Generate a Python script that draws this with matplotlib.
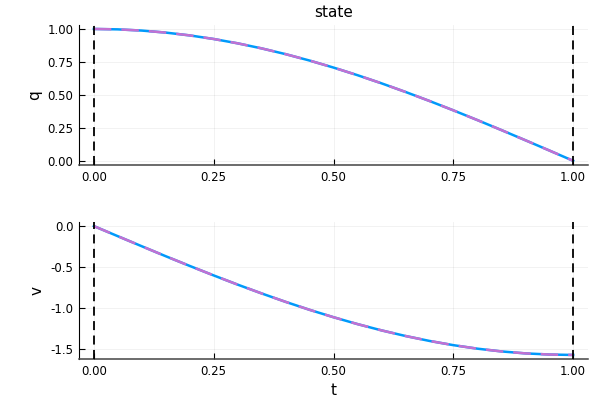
import matplotlib
matplotlib.use("Agg")
import matplotlib.pyplot as plt

t = [0.0, 0.05, 0.1, 0.15, 0.2, 0.25, 0.3, 0.35, 0.4, 0.45, 0.5,
     0.55, 0.6, 0.65, 0.7, 0.75, 0.8, 0.85, 0.9, 0.95, 1.0]
q = [1.0, 0.9969, 0.9877, 0.9724, 0.9511, 0.9239, 0.8910, 0.8526, 0.8090, 0.7604, 0.7071,
     0.6494, 0.5878, 0.5225, 0.4540, 0.3827, 0.3090, 0.2334, 0.1564, 0.0785, 0.0]
v = [0.0, -0.1231, -0.2457, -0.3672, -0.4854, -0.6011, -0.7132, -0.8206, -0.9233, -1.0203, -1.1107,
     -1.1944, -1.2708, -1.3393, -1.3995, -1.4512, -1.4939, -1.5274, -1.5514, -1.5654, -1.5708]
bounds = [0.0, 1.0]
xticks = [0.0, 0.25, 0.5, 0.75, 1.0]
q_ticks = [0.0, 0.25, 0.5, 0.75, 1.0]
v_ticks = [0.0, -0.5, -1.0, -1.5]

blue = "#009AFA"
purple = "#C271D2"

fig = plt.figure(figsize=(6, 4.2), dpi=100)
ax1 = fig.add_axes([79/600, 1-165/420, (588-79)/600, (165-25)/420])
ax2 = fig.add_axes([79/600, 1-359/420, (588-79)/600, (359-222)/420])

def style(ax, yticks, yfmt):
    ax.set_xlim(-0.031, 1.031)
    ax.set_xticks(xticks)
    ax.set_xticklabels([f"{x:.2f}" for x in xticks])
    ax.set_yticks(yticks)
    ax.set_yticklabels([yfmt.format(y) for y in yticks])
    ax.grid(True, color="#000000", alpha=0.06, linewidth=0.6)
    for s in ["top", "right"]:
        ax.spines[s].set_visible(False)
    ax.spines["left"].set_color("black")
    ax.spines["bottom"].set_color("#444444")
    ax.spines["bottom"].set_linewidth(1.1)
    ax.tick_params(direction="in", length=4, labelsize=8.5, width=0.8, pad=4)

ax1.plot(t, q, color=blue, linewidth=1.8, zorder=3)
ax1.plot(t, q, color=purple, linewidth=1.8, linestyle=(0, (7, 4)), zorder=4)
for b in bounds:
    ax1.axvline(b, color="black", linestyle=(0, (5, 3)), linewidth=1.3, zorder=5)
ax1.set_ylim(-0.032, 1.03)
style(ax1, q_ticks, "{:.2f}")
ax1.set_ylabel("q", fontsize=11)
ax1.set_title("state", fontsize=11)

ax2.plot(t, v, color=blue, linewidth=1.8, zorder=3)
ax2.plot(t, v, color=purple, linewidth=1.8, linestyle=(0, (7, 4)), zorder=4)
for b in bounds:
    ax2.axvline(b, color="black", linestyle=(0, (5, 3)), linewidth=1.3, zorder=5)
ax2.set_ylim(-1.62, 0.05)
style(ax2, v_ticks, "{:.1f}")
ax2.set_ylabel("v", fontsize=11)
ax2.set_xlabel("t", fontsize=11)

fig.savefig("out.png", dpi=100)
